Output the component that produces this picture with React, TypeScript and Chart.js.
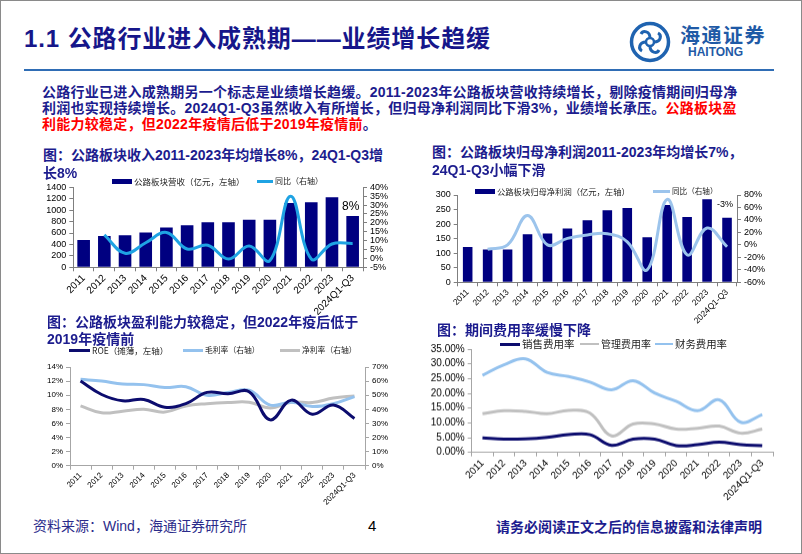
import React, { useEffect, useRef } from 'react';
import { Chart, registerables } from 'chart.js';

Chart.register(...registerables);

// ---------------- data ----------------
const years = ['2011', '2012', '2013', '2014', '2015', '2016', '2017', '2018', '2019', '2020', '2021', '2022', '2023', '2024Q1-Q3'];

// chart 1: revenue (亿元) and yoy (%)
const revenue = [478, 548, 560, 607, 697, 735, 788, 788, 834, 834, 1126, 1140, 1226, 898];
const revenueYoY = [null, 13.2, 2.9, 8.8, 14.6, 5.3, 7.4, -0.3, 7.0, -1.2, 35.0, -0.3, 8.1, 8.4];
const revenueNote = '8%';
const revenueLeftTicks = [0, 1400, 200];
const revenueRightTicks = [-5, 40, 5];

// chart 2: net profit attributable (亿元) and yoy (%)
const profit = [121, 113, 113, 165, 168, 185, 213, 248, 255, 155, 266, 224, 285, 222];
const profitYoY = [null, -7, 0, 47, 0, 10.5, 16, 18, 5, -40, 73, -16, 27, -3];
const profitNote = '-3%';
const profitLeftTicks = [0, 300, 50];
const profitRightTicks = [-60, 80, 20];

// chart 3: profitability (%)
const roe = [12.0, 10.1, 9.2, 9.4, 8.3, 8.8, 10.4, 10.2, 10.5, 6.5, 9.3, 7.3, 8.6, 6.7];
const grossMargin = [61.3, 60.0, 58.0, 57.5, 55.4, 56.0, 50.0, 52.0, 53.5, 43.0, 45.0, 42.0, 44.0, 49.0];
const netMargin = [42.4, 37.5, 38.7, 40.0, 38.0, 42.4, 44.0, 44.8, 45.0, 41.0, 45.0, 44.8, 48.0, 49.5];
const roeTicks = [0, 14, 2];
const marginTicks = [0, 70, 10];

// chart 4: expense ratios (%)
const sellingRate = [4.9, 4.5, 4.6, 5.1, 6.0, 6.0, 2.4, 4.5, 4.5, 2.3, 2.6, 3.5, 2.6, 2.3];
const adminRate = [13.1, 14.1, 13.9, 13.1, 14.2, 13.3, 5.6, 9.6, 9.6, 7.9, 8.2, 8.9, 6.5, 7.9];
const financeRate = [26.1, 29.7, 31.7, 27.1, 25.7, 23.8, 21.2, 24.3, 20.1, 17.3, 14.1, 17.8, 10.2, 12.8];
const expenseTicks = [0, 35, 5];

// ---------------- styles ----------------
const NAVY = '#1c1c8e';
const RED = '#ff0000';
const SANS = "'Liberation Sans', 'Noto Sans CJK SC', sans-serif";
const CJK = "'Noto Sans CJK SC', sans-serif";
const TICK_FAMILY = "'Liberation Sans', Arial, sans-serif";

const BAR_NAVY = '#000080';
const C1_LINE = '#1fa3e3';
const C2_LINE = '#9cc4ec';
const DARK_LINE = '#0c0c6e';
const LIGHT_BLUE = '#94c2ee';
const GRAY_LINE = '#c0c0c0';

const noteLabelPlugin = {
  id: 'noteLabel',
  afterDatasetsDraw(chart: any, _args: any, opts: any) {
    if (!opts || !opts.text) return;
    const meta = chart.getDatasetMeta(opts.datasetIndex || 0);
    const el = meta.data[opts.index];
    if (!el) return;
    const ctx = chart.ctx;
    ctx.save();
    ctx.font = opts.font;
    ctx.fillStyle = opts.color || '#000';
    ctx.textAlign = 'center';
    ctx.textBaseline = 'middle';
    ctx.fillText(opts.text, el.x + (opts.dx || 0), el.y - opts.offset);
    ctx.restore();
  },
};

function yAxis(position: string, t: number[], fmt: (v: number) => string, width: number, fontSize: number, axisColor: string) {
  return {
    position,
    min: t[0],
    max: t[1],
    ticks: { stepSize: t[2], autoSkip: false, callback: (v: any) => fmt(Number(v)), font: { family: TICK_FAMILY, size: fontSize }, color: '#000', padding: 3 },
    grid: { drawOnChartArea: false, drawTicks: true, tickLength: 4, color: axisColor },
    border: { display: true, color: axisColor, width: 1 },
    afterFit: (s: any) => { s.width = width; },
  };
}

function xAxis(height: number, fontSize: number, axisColor: string) {
  return {
    type: 'category',
    offset: true,
    ticks: { autoSkip: false, maxRotation: 45, minRotation: 45, font: { family: TICK_FAMILY, size: fontSize }, color: '#000', padding: 1 },
    grid: { offset: true, drawOnChartArea: false, drawTicks: true, tickLength: 4, color: axisColor },
    border: { display: true, color: axisColor, width: 1 },
    afterFit: (s: any) => { s.height = height; },
  };
}

const baseOptions = (padding: any) => ({
  responsive: false,
  maintainAspectRatio: false,
  animation: false,
  devicePixelRatio: 1,
  layout: { padding },
  plugins: { legend: { display: false }, tooltip: { enabled: false } },
});

const pct = (v: number) => `${v}%`;

function chart1Config() {
  return {
    type: 'bar',
    data: {
      labels: years,
      datasets: [
        { type: 'line', label: '同比（右轴）', data: revenueYoY, yAxisID: 'y1', borderColor: C1_LINE, borderWidth: 3, pointRadius: 0, tension: 0.4, order: 0 },
        { type: 'bar', label: '公路板块营收（亿元，左轴）', data: revenue, yAxisID: 'y', backgroundColor: BAR_NAVY, barPercentage: 0.61, categoryPercentage: 1, order: 1 },
      ],
    },
    options: {
      ...baseOptions({ top: 10.3, left: 0, right: 0, bottom: 0 }),
      scales: {
        x: xAxis(47.7, 10, '#7f7f7f'),
        y: yAxis('left', revenueLeftTicks, (v) => String(v), 35.3, 9, '#7f7f7f'),
        y1: yAxis('right', revenueRightTicks, pct, 37, 9, '#7f7f7f'),
      },
      plugins: {
        legend: { display: false }, tooltip: { enabled: false },
        noteLabel: { text: revenueNote, datasetIndex: 1, index: revenue.length - 1, offset: 9.5, dx: -2, font: `12px ${TICK_FAMILY}`, color: '#000' },
      },
    },
    plugins: [noteLabelPlugin],
  };
}

function chart2Config() {
  return {
    type: 'bar',
    data: {
      labels: years,
      datasets: [
        { type: 'line', label: '同比（右轴）', data: profitYoY, yAxisID: 'y1', borderColor: C2_LINE, borderWidth: 3, pointRadius: 0, tension: 0.4, order: 0 },
        { type: 'bar', label: '公路板块归母净利润（亿元，左轴）', data: profit, yAxisID: 'y', backgroundColor: BAR_NAVY, barPercentage: 0.48, categoryPercentage: 1, order: 1 },
      ],
    },
    options: {
      ...baseOptions({ top: 10, left: 0, right: 0, bottom: 0 }),
      scales: {
        x: xAxis(52.7, 8.5, '#7f7f7f'),
        y: yAxis('left', profitLeftTicks, (v) => String(v), 37.7, 9, '#7f7f7f'),
        y1: yAxis('right', profitRightTicks, pct, 38, 9, '#7f7f7f'),
      },
      plugins: {
        legend: { display: false }, tooltip: { enabled: false },
        noteLabel: { text: profitNote, datasetIndex: 1, index: profit.length - 1, offset: 13.4, dx: -2, font: `9px ${TICK_FAMILY}`, color: '#000' },
      },
    },
    plugins: [noteLabelPlugin],
  };
}

function chart3Config() {
  return {
    type: 'line',
    data: {
      labels: years,
      datasets: [
        { label: 'ROE（摊薄，左轴）', data: roe, yAxisID: 'y', borderColor: DARK_LINE, borderWidth: 3, pointRadius: 0, tension: 0.4 },
        { label: '毛利率（右轴）', data: grossMargin, yAxisID: 'y1', borderColor: LIGHT_BLUE, borderWidth: 3, pointRadius: 0, tension: 0.4 },
        { label: '净利率（右轴）', data: netMargin, yAxisID: 'y1', borderColor: GRAY_LINE, borderWidth: 3, pointRadius: 0, tension: 0.4 },
      ],
    },
    options: {
      ...baseOptions({ top: 10, left: 0, right: 0, bottom: 0 }),
      scales: {
        x: xAxis(46.3, 8, '#a6a6a6'),
        y: yAxis('left', roeTicks, pct, 32, 8, '#a6a6a6'),
        y1: yAxis('right', marginTicks, pct, 30, 8, '#a6a6a6'),
      },
    },
  };
}

function chart4Config() {
  return {
    type: 'line',
    data: {
      labels: years,
      datasets: [
        { label: '销售费用率', data: sellingRate, borderColor: DARK_LINE, borderWidth: 3, pointRadius: 0, tension: 0.4 },
        { label: '管理费用率', data: adminRate, borderColor: GRAY_LINE, borderWidth: 3, pointRadius: 0, tension: 0.4 },
        { label: '财务费用率', data: financeRate, borderColor: LIGHT_BLUE, borderWidth: 3, pointRadius: 0, tension: 0.4 },
      ],
    },
    options: {
      ...baseOptions({ top: 10, left: 0, right: 17, bottom: 0 }),
      scales: {
        x: xAxis(59.3, 10, '#a6a6a6'),
        y: yAxis('left', expenseTicks, (v) => `${v.toFixed(2)}%`, 53.7, 10, '#a6a6a6'),
      },
    },
  };
}

function ChartCanvas({ left, top, width, height, make }: any) {
  const ref = useRef<HTMLCanvasElement | null>(null);
  useEffect(() => {
    const chart = new Chart(ref.current as any, make());
    return () => chart.destroy();
  }, []);
  return <canvas ref={ref} width={width} height={height} style={{ position: 'absolute', left, top, width, height }} />;
}

function Box({ left, top, width, height, color }: any) {
  return <div style={{ position: 'absolute', left, top, width, height, background: color }} />;
}

function Txt({ left, top, size, children, color = '#000', weight = 400, family = CJK, lh, ls = 0 }: any) {
  return (
    <div style={{ position: 'absolute', left, top, fontSize: size, lineHeight: `${lh || size + 2}px`, color, fontWeight: weight, fontFamily: family, whiteSpace: 'nowrap', letterSpacing: ls }}>
      {children}
    </div>
  );
}

// legend item: swatch + text, vertically centered on cy
function Legend({ x1, x2, cy, thick, color, textX, text, size }: any) {
  return (
    <>
      <Box left={x1} top={cy - thick / 2} width={x2 - x1} height={thick} color={color} />
      <Txt left={textX} top={cy - (size + 4) / 2} size={size} lh={size + 4} color="#222">{text}</Txt>
    </>
  );
}

function Logo() {
  return (
    <svg style={{ position: 'absolute', left: 628, top: 21 }} width={44} height={42} viewBox="0 0 44 42">
      <circle cx={22} cy={21} r={18.5} fill="none" stroke="#1f63b0" strokeWidth={3.5} />
      <circle cx={22} cy={21} r={4} fill="none" stroke="#1f63b0" strokeWidth={2.5} />
      <path d="M22 17 C22 10 15 9 13 13" fill="none" stroke="#1f63b0" strokeWidth={3} />
      <path d="M26 21 C33 21 34 14 30 12" fill="none" stroke="#1f63b0" strokeWidth={3} />
      <path d="M22 25 C22 32 29 33 31 29" fill="none" stroke="#1f63b0" strokeWidth={3} />
      <path d="M18 21 C11 21 10 28 14 30" fill="none" stroke="#1f63b0" strokeWidth={3} />
    </svg>
  );
}

export default function App() {
  const paraStyle: any = { fontSize: 14, fontWeight: 700, fontFamily: SANS, color: NAVY, lineHeight: '17px', letterSpacing: 0.25 };
  return (
    <div style={{ position: 'absolute', left: 0, top: 0, width: 802, height: 554, background: '#fff', overflow: 'hidden' }}>
      <div style={{ position: 'absolute', left: 0, top: 0, width: 802, height: 554, border: '1px solid #8a8a8a', boxSizing: 'border-box' }} />

      {/* header */}
      <Txt left={24} top={25} size={24} lh={28} weight={700} family={SANS} color="#16168a" ls={0.9}>1.1 公路行业进入成熟期——业绩增长趋缓</Txt>
      <Logo />
      <Txt left={680} top={23} size={20} lh={24} weight={700} family={CJK} color="#1f5aa6" ls={1.5}>海通证券</Txt>
      <Txt left={688} top={45} size={12} lh={14} weight={700} family={SANS} color="#1f5aa6">HAITONG</Txt>
      <Box left={24} top={69} width={750} height={2} color="#2f6db5" />

      {/* paragraph */}
      <div style={{ position: 'absolute', left: 42, top: 83.5, whiteSpace: 'nowrap', ...paraStyle }}>公路行业已进入成熟期另一个标志是业绩增长趋缓。2011-2023年公路板块营收持续增长，剔除疫情期间归母净</div>
      <div style={{ position: 'absolute', left: 42, top: 99.5, whiteSpace: 'nowrap', ...paraStyle }}>利润也实现持续增长。2024Q1-Q3虽然收入有所增长，但归母净利润同比下滑3%，业绩增长承压。<span style={{ color: RED }}>公路板块盈</span></div>
      <div style={{ position: 'absolute', left: 42, top: 115.5, whiteSpace: 'nowrap', ...paraStyle }}><span style={{ color: RED }}>利能力较稳定，但2022年疫情后低于2019年疫情前</span>。</div>

      {/* charts */}
      <ChartCanvas left={38} top={177} width={362} height={138} make={chart1Config} />
      <ChartCanvas left={420} top={185} width={355} height={150} make={chart2Config} />
      <ChartCanvas left={38} top={356.7} width={357} height={155.3} make={chart3Config} />
      <ChartCanvas left={418} top={339.3} width={372} height={172.7} make={chart4Config} />

      {/* chart titles */}
      <Txt left={43} top={146} size={14} lh={18} weight={700} family={SANS} color={NAVY}>图：公路板块收入2011-2023年均增长8%，24Q1-Q3增</Txt>
      <Txt left={43} top={164} size={14} lh={18} weight={700} family={SANS} color={NAVY}>长8%</Txt>
      <Txt left={432} top={143} size={14} lh={18} weight={700} family={SANS} color={NAVY}>图：公路板块归母净利润2011-2023年均增长7%，</Txt>
      <Txt left={432} top={161} size={14} lh={18} weight={700} family={SANS} color={NAVY}>24Q1-Q3小幅下滑</Txt>
      <Txt left={47} top={313} size={14} lh={18} weight={700} family={SANS} color={NAVY}>图：公路板块盈利能力较稳定，但2022年疫后低于</Txt>
      <Txt left={47} top={330} size={14} lh={18} weight={700} family={SANS} color={NAVY}>2019年疫情前</Txt>
      <Txt left={437} top={321} size={14} lh={18} weight={700} family={SANS} color={NAVY}>图：期间费用率缓慢下降</Txt>

      {/* legends */}
      <Legend x1={112} x2={132} cy={181} thick={5} color={BAR_NAVY} textX={134} text="公路板块营收（亿元，左轴）" size={8.5} />
      <Legend x1={257} x2={273} cy={181} thick={3} color={C1_LINE} textX={275} text="同比（右轴）" size={8} />
      <Legend x1={475} x2={495} cy={191} thick={5} color={BAR_NAVY} textX={497} text="公路板块归母净利润（亿元，左轴）" size={8.3} />
      <Legend x1={653} x2={670} cy={191} thick={3} color={C2_LINE} textX={672} text="同比（右轴）" size={7.6} />
      <Legend x1={69} x2={90} cy={350} thick={3} color={DARK_LINE} textX={92} text="ROE（摊薄，左轴）" size={8.5} />
      <Legend x1={183} x2={203} cy={350} thick={3} color={LIGHT_BLUE} textX={205} text="毛利率（右轴）" size={7.8} />
      <Legend x1={280} x2={300} cy={350} thick={3} color={GRAY_LINE} textX={302} text="净利率（右轴）" size={7.8} />
      <Legend x1={500} x2={520} cy={344} thick={3} color={DARK_LINE} textX={522} text="销售费用率" size={10.5} />
      <Legend x1={580} x2={599} cy={344} thick={2} color={GRAY_LINE} textX={601} text="管理费用率" size={10} />
      <Legend x1={655} x2={673} cy={344} thick={2} color={LIGHT_BLUE} textX={675} text="财务费用率" size={10.4} />

      {/* footer */}
      <Txt left={33} top={517} size={14} lh={18} family={SANS} color="#2b2b8a">资料来源：Wind，海通证券研究所</Txt>
      <Txt left={368} top={517} size={15} lh={18} family={SANS} color="#000">4</Txt>
      <Txt left={496} top={517} size={14} lh={18} weight={700} family={CJK} color={NAVY}>请务必阅读正文之后的信息披露和法律声明</Txt>
    </div>
  );
}
